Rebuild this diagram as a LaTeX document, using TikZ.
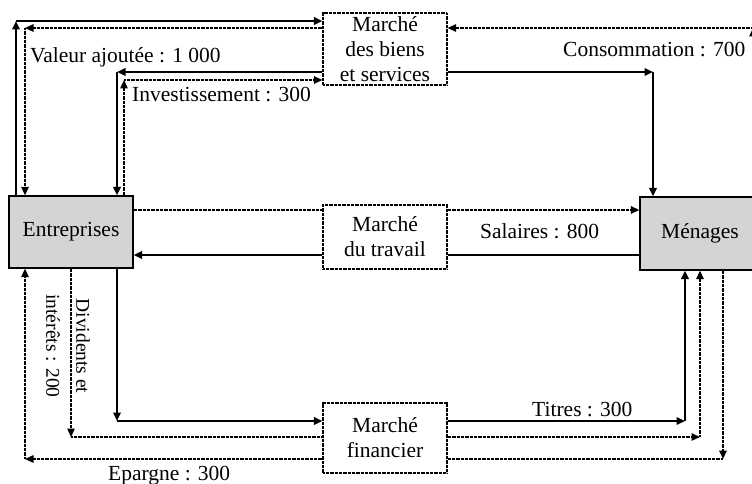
\documentclass[tikz,border=0pt]{standalone}
\usepackage{fontspec}
\setmainfont{Liberation Serif}
\usetikzlibrary{arrows.meta}
\definecolor{agentgray}{RGB}{212,212,212}
\begin{document}
\begin{tikzpicture}[x=1pt,y=-1pt,
  every node/.style={font=\fontsize{21.5}{25}\selectfont},
  mkt/.style={draw, line width=1.2pt, dash pattern=on 1pt off 0.3pt, minimum width=124pt, inner sep=0pt, align=center},
  agent/.style={draw, line width=1.3pt, fill=agentgray, inner sep=0pt},
  fl/.style={line width=2.2pt},
  dl/.style={line width=1.3pt, dash pattern=on 1pt off 0.3pt},
  tip/.style={-{Triangle[length=8.5pt,width=7.5pt]}},
  lbl/.style={anchor=base west, inner sep=0pt}]
\useasboundingbox (0,0) rectangle (752,484);

% agents and markets
\node[agent, minimum width=124pt, minimum height=72pt] (ent) at (71,232) {Entreprises};
\node[agent, minimum width=120pt, minimum height=73pt] (men) at (700,233.5) {Ménages};
\node[mkt, minimum height=72pt] (biens) at (385,49) {Marché\\des biens\\et services};
\node[mkt, minimum height=64pt] (trav) at (385,237) {Marché\\du travail};
\node[mkt, minimum height=70pt] (fin) at (385,438) {Marché\\financier};

% corner coordinates
\coordinate (t1) at (16,21);
\coordinate (t2) at (25,28);
\coordinate (t3) at (117,72);
\coordinate (t4) at (124,80);
\coordinate (t5) at (753,28);
\coordinate (t6) at (653,72);
\coordinate (m1) at (0,210);
\coordinate (m2) at (0,255);
\coordinate (b1) at (117,421);
\coordinate (b1r) at (685,421);
\coordinate (b2) at (71,437);
\coordinate (b2r) at (700,437);
\coordinate (b3) at (25,459);
\coordinate (b3r) at (723,459);

% goods market, firm side
\draw[fl, tip] (ent.north -| t1) -- (t1);
\draw[fl, tip] (t1) -- (biens.west |- t1);
\draw[dl, tip] (biens.west |- t2) -- (t2);
\draw[dl, tip] (t2) -- (ent.north -| t2);
\draw[fl, tip] (biens.west |- t3) -- (t3);
\draw[fl, tip] (t3) -- (ent.north -| t3);
\draw[dl, tip] (ent.north -| t4) -- (t4);
\draw[dl, tip] (t4) -- (biens.west |- t4);

% goods market, household side
\draw[dl, tip] (men.north -| t5) -- (t5);
\draw[dl, tip] (t5) -- (biens.east |- t5);
\draw[fl, tip] (biens.east |- t6) -- (t6);
\draw[fl, tip] (t6) -- (men.north -| t6);

% labour market
\draw[dl] (ent.east |- m1) -- (trav.west |- m1);
\draw[dl, tip] (trav.east |- m1) -- (men.west |- m1);
\draw[fl] (men.west |- m2) -- (trav.east |- m2);
\draw[fl, tip] (trav.west |- m2) -- (ent.east |- m2);

% financial market
\draw[fl, tip] (ent.south -| b1) -- (b1);
\draw[fl, tip] (b1) -- (fin.west |- b1);
\draw[fl, tip] (fin.east |- b1r) -- (b1r);
\draw[fl, tip] (b1r) -- (men.south -| b1r);
\draw[dl, tip] (ent.south -| b2) -- (b2);
\draw[dl] (b2) -- (fin.west |- b2);
\draw[dl, tip] (fin.east |- b2r) -- (b2r);
\draw[dl, tip] (b2r) -- (men.south -| b2r);
\draw[dl, tip] (fin.west |- b3) -- (b3);
\draw[dl, tip] (b3) -- (ent.south -| b3);
\draw[dl, line width=1.7pt, tip] (men.south -| b3r) -- (b3r);
\draw[dl] (b3r) -- (fin.east |- b3r);

% labels
\node[lbl] (lva) at (30,63) {Valeur ajoutée : 1 000};
\node[lbl] (linv) at (132,102) {Investissement : 300};
\node[lbl] (lcons) at (563,57) {Consommation : 700};
\node[lbl] (lsal) at (480,238) {Salaires : 800};
\node[lbl] (ltit) at (532,416) {Titres : 300};
\node[lbl] (lep) at (108,480) {Epargne : 300};
\node[rotate=-90, align=center, font=\fontsize{19.5}{30}\selectfont, inner sep=0pt] (ldiv) at (68,346) {Dividents et\\intérêts : 200};
\end{tikzpicture}
\end{document}
